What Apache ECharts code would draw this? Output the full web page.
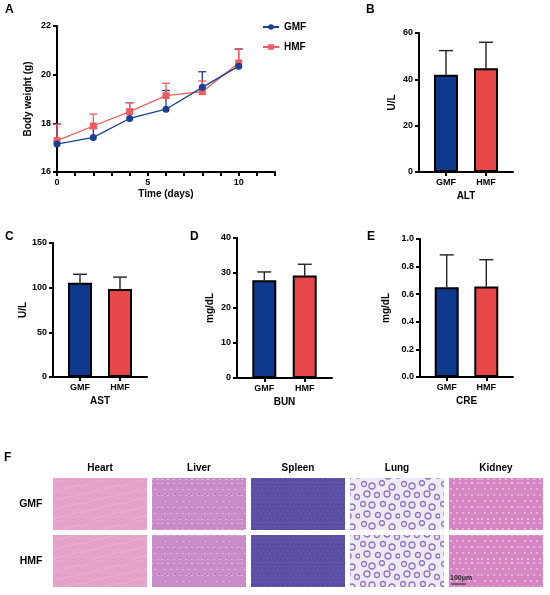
<!DOCTYPE html>
<html>
<head>
<meta charset="utf-8">
<script src="https://cdn.jsdelivr.net/npm/echarts@6/dist/echarts.min.js"></script>
<style>
  html, body { margin: 0; padding: 0; background: #fff; }
  #main { width: 550px; height: 595px; }
</style>
</head>
<body>
<div id="main"></div>
<script>
// ---- data ----
var days = [0, 2, 4, 6, 8, 10];
var gmfWeight = [17.15, 17.42, 18.20, 18.58, 19.48, 20.35];
var gmfWeightSd = [0.82, 0.38, 0.65, 0.77, 0.64, 0.70];
var hmfWeight = [17.29, 17.89, 18.48, 19.14, 19.30, 20.48];
var hmfWeightSd = [0.66, 0.49, 0.37, 0.51, 0.44, 0.59];

var groups = ['GMF', 'HMF'];
var groupPos = [1, 2];
var altMean = [42.0, 44.8], altSd = [10.4, 11.2];
var astMean = [105.5, 98.4], astSd = [9.5, 13.4];
var bunMean = [27.9, 29.3], bunSd = [2.4, 3.2];
var creMean = [0.650, 0.655], creSd = [0.235, 0.195];

var organs = ['Heart', 'Liver', 'Spleen', 'Lung', 'Kidney'];

// ---- styles ----
var FONT = 'Liberation Sans, Arial, sans-serif';
var BLUE = '#0e3a8e', RED = '#e8474a';
var LBLUE = '#1b3f91', LRED = '#ef5b60';

var chart = echarts.init(document.getElementById('main'));

function axisBase() {
  return {
    axisLine: { show: true, lineStyle: { color: '#000', width: 2 } },
    axisTick: { show: true, length: 4, lineStyle: { color: '#000', width: 2 } },
    axisLabel: { color: '#000', fontWeight: 'bold', fontSize: 9, fontFamily: FONT },
    splitLine: { show: false },
    nameTextStyle: { color: '#000', fontWeight: 'bold', fontSize: 10, fontFamily: FONT }
  };
}

function ax(extra) {
  var a = axisBase();
  for (var k in extra) {
    if (typeof extra[k] === 'object' && a[k] && !Array.isArray(extra[k])) {
      for (var j in extra[k]) a[k][j] = extra[k][j];
    } else a[k] = extra[k];
  }
  return a;
}

// 误差线 (upper only, GraphPad style)
function errRender(capW, color, lw) {
  return function (params, api) {
    var x = api.value(0), m = api.value(1), s = api.value(2);
    var p0 = api.coord([x, m]);
    var p1 = api.coord([x, m + s]);
    return {
      type: 'group',
      children: [
        { type: 'line', shape: { x1: p0[0], y1: p0[1], x2: p1[0], y2: p1[1] }, style: { stroke: color, lineWidth: lw } },
        { type: 'line', shape: { x1: p1[0] - capW / 2, y1: p1[1], x2: p1[0] + capW / 2, y2: p1[1] }, style: { stroke: color, lineWidth: lw } }
      ]
    };
  };
}

// bar panel grids: B, C, D, E
var barPanels = [
  { name: 'ALT', mean: altMean, sd: altSd, grid: { left: 419, top: 33, width: 94, height: 139 }, min: 0, max: 60, interval: 20, unit: 'U/L', gap: 22 },
  { name: 'AST', mean: astMean, sd: astSd, grid: { left: 53, top: 243, width: 94, height: 134 }, min: 0, max: 150, interval: 50, unit: 'U/L', gap: 25 },
  { name: 'BUN', mean: bunMean, sd: bunSd, grid: { left: 237, top: 238, width: 95, height: 140 }, min: 0, max: 40, interval: 10, unit: 'mg/dL', gap: 22 },
  { name: 'CRE', mean: creMean, sd: creSd, grid: { left: 420, top: 239, width: 93, height: 138 }, min: 0, max: 1, interval: 0.2, unit: 'mg/dL', gap: 29, dec: 1 }
];

var grids = [{ left: 57, top: 26, width: 218, height: 146 }];
var xAxes = [ax({
  gridIndex: 0, type: 'value', min: 0, max: 12, interval: 1,
  name: 'Time (days)', nameLocation: 'middle', nameGap: 17,
  axisLabel: { margin: 6, formatter: function (v) { return v % 5 === 0 ? String(v) : ''; } }
})];
var yAxes = [ax({
  gridIndex: 0, type: 'value', min: 16, max: 22, interval: 2,
  name: 'Body weight (g)', nameLocation: 'middle', nameGap: 24,
  axisLabel: { margin: 6 }
})];

var series = [
  { type: 'custom', name: 'gmfErr', xAxisIndex: 0, yAxisIndex: 0, z: 1, silent: true,
    renderItem: errRender(8, LBLUE, 1.3),
    data: days.map(function (d, i) { return [d, gmfWeight[i], gmfWeightSd[i]]; }) },
  { type: 'custom', name: 'hmfErr', xAxisIndex: 0, yAxisIndex: 0, z: 1, silent: true,
    renderItem: errRender(8, LRED, 1.3),
    data: days.map(function (d, i) { return [d, hmfWeight[i], hmfWeightSd[i]]; }) },
  { type: 'line', name: 'HMF', xAxisIndex: 0, yAxisIndex: 0, z: 3,
    symbol: 'rect', symbolSize: 7, color: LRED, lineStyle: { width: 1.3, color: LRED },
    data: days.map(function (d, i) { return [d, hmfWeight[i]]; }) },
  { type: 'line', name: 'GMF', xAxisIndex: 0, yAxisIndex: 0, z: 4,
    symbol: 'circle', symbolSize: 7, color: LBLUE, lineStyle: { width: 1.3, color: LBLUE },
    data: days.map(function (d, i) { return [d, gmfWeight[i]]; }) }
];

barPanels.forEach(function (p, k) {
  var gi = k + 1;
  grids.push(p.grid);
  xAxes.push(ax({
    gridIndex: gi, type: 'value', min: 0.325, max: 2.675,
    name: p.name, nameLocation: 'middle', nameGap: 19,
    axisTick: { customValues: groupPos, length: 4 },
    axisLabel: { customValues: groupPos, margin: 6, formatter: function (v) { return groups[Math.round(v) - 1] || ''; } }
  }));
  yAxes.push(ax({
    gridIndex: gi, type: 'value', min: p.min, max: p.max, interval: p.interval,
    name: p.unit, nameLocation: 'middle', nameGap: p.gap,
    axisLabel: { margin: 6, formatter: function (v) { return p.dec ? v.toFixed(p.dec) : String(v); } }
  }));
  series.push({
    type: 'bar', name: p.name, xAxisIndex: gi, yAxisIndex: gi, barWidth: 24, z: 2,
    data: p.mean.map(function (m, i) {
      return { value: [groupPos[i], m], itemStyle: { color: i === 0 ? BLUE : RED, borderColor: '#000', borderWidth: 2 } };
    })
  });
  series.push({
    type: 'custom', name: p.name + 'Err', xAxisIndex: gi, yAxisIndex: gi, z: 1, silent: true,
    renderItem: errRender(14, '#222', 1.4),
    data: p.mean.map(function (m, i) { return [groupPos[i], m, p.sd[i]]; })
  });
});

// ---- panel F: HE tiles (textures are only styling) ----
function makeTexture(kind) {
  var c = document.createElement('canvas');
  var s = 40;
  c.width = s; c.height = s;
  var g = c.getContext('2d');
  var x, y;
  if (kind === 'Heart') {
    g.fillStyle = '#e5a3ca'; g.fillRect(0, 0, s, s);
    g.strokeStyle = '#edbad8'; g.lineWidth = 0.6;
    for (y = 6; y < s + 20; y += 9) { g.beginPath(); g.moveTo(0, y); g.lineTo(s, y - 10); g.stroke(); }
    g.fillStyle = '#d488bc';
    for (y = 3; y < s; y += 6) for (x = (y % 12 === 3 ? 2 : 6); x < s; x += 8) g.fillRect(x, y, 1, 1);
  } else if (kind === 'Liver') {
    g.fillStyle = '#c98cc8'; g.fillRect(0, 0, s, s);
    g.fillStyle = '#e2b8df';
    for (y = 3; y < s; y += 6) for (x = (y % 12 === 3 ? 1 : 4); x < s; x += 6) g.fillRect(x, y, 2, 1);
    g.fillStyle = '#a46bb2';
    for (y = 5; y < s; y += 8) for (x = (y % 16 === 5 ? 3 : 7); x < s; x += 8) g.fillRect(x, y, 1, 1);
  } else if (kind === 'Spleen') {
    g.fillStyle = '#5b50a5'; g.fillRect(0, 0, s, s);
    g.fillStyle = '#7763b4';
    for (y = 2; y < s; y += 4) for (x = (y % 8 === 2 ? 1 : 3); x < s; x += 4) g.fillRect(x, y, 1, 1);
    g.fillStyle = '#4b4096';
    for (y = 4; y < s; y += 5) for (x = (y % 10 === 4 ? 2 : 0); x < s; x += 5) g.fillRect(x, y, 1, 1);
  } else if (kind === 'Lung') {
    g.fillStyle = '#eeeaf3'; g.fillRect(0, 0, s, s);
    g.strokeStyle = '#9273c2'; g.lineWidth = 1.3;
    var pts = [[4, 4, 2.5], [12, 6, 3], [22, 3, 2.5], [32, 7, 3], [7, 14, 3], [17, 15, 2.5], [27, 14, 3],
               [37, 17, 2.5], [3, 24, 2.5], [12, 25, 3], [23, 24, 2.5], [32, 27, 3], [7, 34, 3], [18, 35, 2.5], [28, 36, 3], [38, 36, 2]];
    pts.forEach(function (q) { g.beginPath(); g.arc(q[0], q[1], q[2], 0, Math.PI * 2); g.stroke(); });
  } else {
    g.fillStyle = '#d585c2'; g.fillRect(0, 0, s, s);
    g.fillStyle = '#ecbfdd';
    for (y = 3; y < s; y += 6) for (x = (y % 12 === 3 ? 2 : 5); x < s; x += 6) { g.beginPath(); g.arc(x, y, 1.1, 0, Math.PI * 2); g.fill(); }
  }
  return c;
}
var textures = {};
organs.forEach(function (o) { textures[o] = makeTexture(o); });

var tileData = [];
groups.forEach(function (gname, r) {
  organs.forEach(function (o, c) { tileData.push([c, r]); });
});

grids.push({ left: 50.5, top: 475.5, width: 495, height: 114 });
var fi = grids.length - 1;
xAxes.push({
  gridIndex: fi, type: 'category', data: organs, position: 'top',
  axisLine: { show: false }, axisTick: { show: false }, splitLine: { show: false },
  axisLabel: { color: '#000', fontWeight: 'bold', fontSize: 10, fontFamily: FONT, margin: 2 }
});
yAxes.push({
  gridIndex: fi, type: 'category', data: groups, inverse: true,
  axisLine: { show: false }, axisTick: { show: false }, splitLine: { show: false },
  axisLabel: { color: '#000', fontWeight: 'bold', fontSize: 10.5, fontFamily: FONT, margin: 8 }
});
series.push({
  type: 'custom', name: 'HE', xAxisIndex: fi, yAxisIndex: fi, silent: true,
  data: tileData,
  renderItem: function (params, api) {
    var ci = api.value(0), ri = api.value(1);
    var ctr = api.coord([ci, ri]);
    var sz = api.size([1, 1]);
    return {
      type: 'rect',
      shape: { x: ctr[0] - sz[0] / 2 + 2.5, y: ctr[1] - sz[1] / 2 + 2.5, width: sz[0] - 5, height: sz[1] - 5 },
      style: { fill: { image: textures[organs[ci]], repeat: 'repeat' } }
    };
  }
});

function letter(t, x, y) {
  return { type: 'text', left: x, top: y, style: { text: t, fill: '#000', font: 'bold 12px ' + FONT } };
}

chart.setOption({
  animation: false,
  backgroundColor: '#fff',
  textStyle: { fontFamily: FONT },
  grid: grids,
  xAxis: xAxes,
  yAxis: yAxes,
  legend: {
    data: ['GMF', 'HMF'], orient: 'vertical', left: 257, top: 17,
    itemWidth: 16, itemHeight: 7, itemGap: 10,
    textStyle: { color: '#000', fontWeight: 'bold', fontSize: 10, fontFamily: FONT }
  },
  series: series,
  graphic: [
    letter('A', 5, 4),
    letter('B', 366, 4),
    letter('C', 5, 231),
    letter('D', 190, 231),
    letter('E', 367, 231),
    letter('F', 4, 452),
    { type: 'text', left: 450, top: 575, z: 10, style: { text: '100μm', fill: '#2a2a2a', font: 'bold 7px ' + FONT } },
    { type: 'line', z: 10, shape: { x1: 451, y1: 584, x2: 466, y2: 584 }, style: { stroke: '#2a2a2a', lineWidth: 1 } }
  ]
});
</script>
</body>
</html>
